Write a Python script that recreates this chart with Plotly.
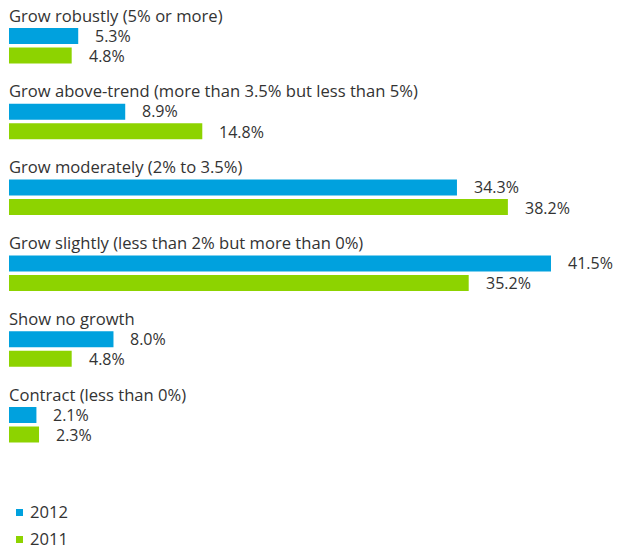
import plotly.graph_objects as go

# Expected growth outcome categories and survey shares (%)
categories = [
    "Grow robustly (5% or more)",
    "Grow above-trend (more than 3.5% but less than 5%)",
    "Grow moderately (2% to 3.5%)",
    "Grow slightly (less than 2% but more than 0%)",
    "Show no growth",
    "Contract (less than 0%)",
]
values_2012 = [5.3, 8.9, 34.3, 41.5, 8.0, 2.1]
values_2011 = [4.8, 14.8, 38.2, 35.2, 4.8, 2.3]
series_names = ["2012", "2011"]

BLUE = "#00A1DE"
GREEN = "#8DD300"
TEXT = "#333333"
FONT = "Open Sans"
FS_LABEL = 16.6
FS_VALUE = 16

W, H = 619, 550
LEFT = 9
PX_PER_PCT = 13.06

# Vertical layout (y axis in pixel units, reversed)
STEP = 75.8
LABEL_OFF = 15
BAR_A_OFF = 36
BAR_B_OFF = 55.5
BAR_H = 16

# Legend block placement (pixels)
LEG_Y0 = 511.5
LEG_STEP = 27
LEG_SWATCH_X = 19.5
LEG_TEXT_X = 28

idx = list(range(len(categories)))
y_a = [BAR_A_OFF + STEP * i for i in idx]
y_b = [BAR_B_OFF + STEP * i for i in idx]
y_lab = [LABEL_OFF + STEP * i for i in idx]

fig = go.Figure()
colors = [BLUE, GREEN]
for name, vals, ys, col in [
    (series_names[0], values_2012, y_a, BLUE),
    (series_names[1], values_2011, y_b, GREEN),
]:
    fig.add_trace(go.Bar(
        x=vals, y=ys, orientation="h", width=BAR_H, name=name,
        marker=dict(color=col, line=dict(width=0)),
        showlegend=False, hoverinfo="skip",
    ))

annotations = []
for lab, y in zip(categories, y_lab):
    annotations.append(dict(
        x=0, y=y, xref="x", yref="y", text=lab, showarrow=False,
        xanchor="left", yanchor="middle", xshift=-2,
        font=dict(size=FS_LABEL, color=TEXT, family=FONT),
    ))
for vals, ys, dy in [(values_2012, y_a, 0.5), (values_2011, y_b, -0.5)]:
    for v, y in zip(vals, ys):
        annotations.append(dict(
            x=v, y=y, xref="x", yref="y", text=f"{v:.1f}%", showarrow=False,
            xanchor="left", yanchor="middle", xshift=15, yshift=dy,
            font=dict(size=FS_VALUE, color=TEXT, family=FONT),
        ))

# Legend: small square swatches with series names
shapes = []
for k, (name, col) in enumerate(zip(series_names, colors)):
    yc = LEG_Y0 + LEG_STEP * k
    shapes.append(dict(
        type="rect", xref="paper", yref="y",
        x0=(LEG_SWATCH_X - 3.5 - LEFT) / (W - LEFT), x1=(LEG_SWATCH_X + 3.5 - LEFT) / (W - LEFT),
        y0=yc - 2.5, y1=yc + 4.5, fillcolor=col, line=dict(width=0),
    ))
    annotations.append(dict(
        x=(LEG_TEXT_X - LEFT) / (W - LEFT), y=yc, xref="paper", yref="y", text=name,
        showarrow=False, xanchor="left", yanchor="middle",
        font=dict(size=FS_LABEL, color=TEXT, family=FONT),
    ))

fig.update_layout(
    width=W, height=H,
    margin=dict(l=LEFT, r=0, t=0, b=0),
    paper_bgcolor="white", plot_bgcolor="white",
    barmode="overlay",
    xaxis=dict(range=[0, (W - LEFT) / PX_PER_PCT], visible=False, fixedrange=True),
    yaxis=dict(range=[H, 0], visible=False, fixedrange=True),
    annotations=annotations,
    shapes=shapes,
    showlegend=False,
)

fig.write_html("out.html")
